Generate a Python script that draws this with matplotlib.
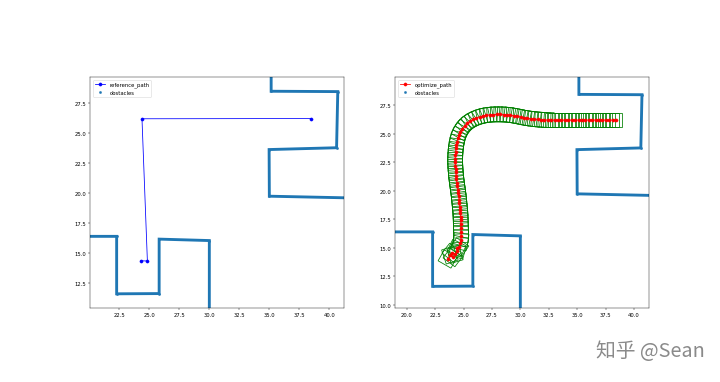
import numpy as np
import matplotlib
matplotlib.use("Agg")
import matplotlib.pyplot as plt
from matplotlib.patches import Rectangle
from matplotlib.transforms import Affine2D

### obstacle outlines (two walls)
obs1_x = [35.15, 35.15, 40.70, 40.60, 34.98, 35.00, 41.60]
obs1_y = [30.60, 28.45, 28.42, 23.75, 23.60, 19.72, 19.58]
obs2_x = [18.50, 22.28, 22.28, 25.82, 25.82, 30.00, 30.00]
obs2_y = [16.38, 16.38, 11.60, 11.62, 16.15, 16.03, 9.40]

### reference path
ref_x = [24.28, 24.84, 24.39, 38.45]
ref_y = [14.35, 14.33, 26.16, 26.18]

### optimized path
opt_x = [23.60, 23.80, 24.05, 23.95, 24.25, 24.45, 24.40, 24.62, 24.70, 24.76,
         24.78, 24.78, 24.77, 24.76, 24.75, 24.74, 24.72, 24.70, 24.67, 24.64,
         24.61, 24.58, 24.54, 24.50, 24.46, 24.42, 24.38, 24.35, 24.32, 24.30,
         24.28, 24.27, 24.27, 24.28, 24.30, 24.33, 24.37, 24.43, 24.50, 24.60,
         24.73, 24.90, 25.10, 25.33, 25.58, 25.85, 26.13, 26.42, 26.72, 27.02,
         27.32, 27.62, 27.92, 28.22, 28.52, 28.82, 29.12, 29.42, 29.72, 30.02,
         30.32, 30.62, 30.92, 31.22, 31.52, 31.82, 32.12, 32.42, 32.72, 33.02,
         33.32, 33.62, 33.92, 34.22, 34.52, 34.82, 35.12, 35.42, 35.72, 36.02,
         36.32, 36.62, 36.92, 37.22, 37.52, 37.82, 38.12, 38.42]
opt_y = [14.00, 14.35, 14.15, 14.55, 14.40, 14.70, 14.95, 15.05, 15.40, 15.70,
         16.00, 16.40, 16.75, 17.10, 17.40, 17.70, 18.00, 18.30, 18.60, 18.90,
         19.20, 19.50, 19.80, 20.10, 20.40, 20.70, 21.00, 21.30, 21.60, 21.90,
         22.20, 22.50, 22.80, 23.10, 23.40, 23.70, 24.00, 24.30, 24.60, 24.90,
         25.18, 25.45, 25.70, 25.92, 26.10, 26.25, 26.38, 26.48, 26.56, 26.62,
         26.66, 26.68, 26.69, 26.69, 26.68, 26.66, 26.63, 26.58, 26.53, 26.47,
         26.41, 26.36, 26.32, 26.28, 26.25, 26.23, 26.21, 26.20, 26.20, 26.20,
         26.20, 26.20, 26.20, 26.20, 26.20, 26.20, 26.20, 26.20, 26.20, 26.20,
         26.20, 26.20, 26.20, 26.20, 26.20, 26.20, 26.20, 26.20]

### vehicle footprint
car_length = 1.1
car_width = 1.3

def plot_obstacles(ax):
    for ox, oy in [(obs1_x, obs1_y), (obs2_x, obs2_y)]:
        ax.plot(ox, oy, "-", color="C0", linewidth=5.5, solid_joinstyle="miter")
    ax.plot(obs1_x + obs2_x, obs1_y + obs2_y, ".", color="C0", markersize=8,
            linestyle="none", label="obstacles")

def plot_car(ax, x, y, yaw):
    tr = Affine2D().rotate(yaw).translate(x, y) + ax.transData
    box = Rectangle((-car_length / 2, -car_width / 2), car_length, car_width,
                    fill=False, edgecolor="g", linewidth=1.5, transform=tr)
    ax.add_patch(box)

fig = plt.figure(figsize=(19.2, 10.2133), dpi=37.5)

### left: reference path
ax1 = fig.add_axes([0.125, 0.1932, 0.3528, 0.603])
ax1.plot(ref_x, ref_y, "-ob", label="reference_path")
plot_obstacles(ax1)
ax1.set_xlim(20.06, 41.22)
ax1.set_ylim(10.42, 29.63)
ax1.legend(loc="upper left")

### right: optimized path with car boxes
ax2 = fig.add_axes([0.5486, 0.1932, 0.3528, 0.603])
px = np.array(opt_x)
py = np.array(opt_y)
yaw = np.arctan2(np.gradient(py), np.gradient(px))
for i in range(len(px)):
    plot_car(ax2, px[i], py[i], yaw[i])
ax2.plot(opt_x, opt_y, "-or", label="optimize_path")
plot_obstacles(ax2)
ax2.set_xlim(18.97, 41.32)
ax2.set_ylim(9.70, 29.97)
ax2.legend(loc="upper left")

fig.text(0.979, 0.081, "知乎 @Sean", ha="right", va="center", fontsize=38,
         color="#8a8a8a", family=["Noto Sans CJK SC", "DejaVu Sans"])

plt.savefig("out.png", dpi=37.5)
